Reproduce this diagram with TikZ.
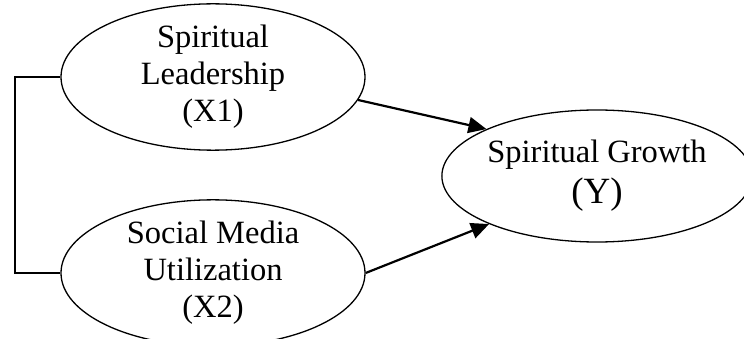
\documentclass[tikz,border=0pt]{standalone}
\usepackage{fontspec}
\setmainfont{Liberation Serif}
\usetikzlibrary{shapes.geometric,arrows.meta}
\begin{document}
\begin{tikzpicture}[x=1pt,y=-1pt,
  latent/.style={ellipse,draw,line width=1.3pt,inner sep=0pt,align=center,
    font=\fontsize{32.5}{37}\selectfont},
  conn/.style={line width=2pt},
  path/.style={line width=2.2pt,-{Triangle[length=18pt,width=16pt]}}]
\useasboundingbox (0,0) rectangle (744,339);
\node[latent,minimum width=304pt,minimum height=134pt] (x1) at (213,77)
  {Spiritual\\Leadership\\(X1)};
\node[latent,minimum width=304pt,minimum height=130pt] (x2) at (213,273)
  {Social Media\\Utilization\\(X2)};
\node[latent,minimum width=288pt,minimum height=132pt] (y) at (597,176)
  {Spiritual Growth\\[4pt]{\fontsize{37}{40}\selectfont (Y)}};
\draw[conn] (x1.west) -- ++(-45,0) |- (x2.west);
\draw[path] (x1.-9) -- (y.157);
\draw[path] (x2.0) -- (y.204);
\end{tikzpicture}
\end{document}
